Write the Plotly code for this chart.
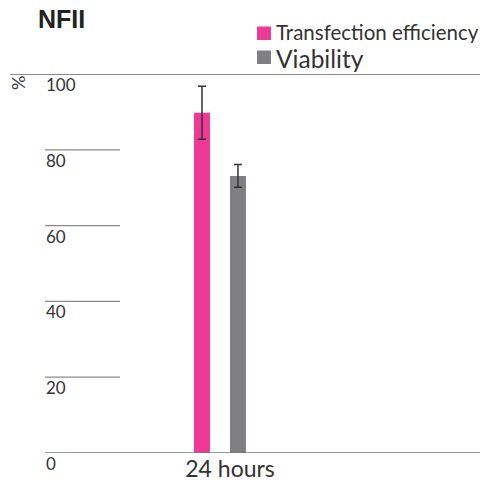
import plotly.graph_objects as go

# ---- data ----
categories = ["24 hours"]
series_names = ["Transfection efficiency", "Viability"]
series_values = [[89.8], [73.1]]
series_errors = [[7.0], [3.0]]
series_colors = ["#EE3A96", "#808084"]
y_ticks = [0, 20, 40, 60, 80, 100]
title_text = "NFII"
y_label = "%"

W, H = 480, 481
ML, MR, MT, MB = 10, 0, 74, 28
PW, PH = W - ML - MR, H - MT - MB


def px(x):
    return (x - ML) / PW


def py(y):
    return (H - MB - y) / PH


fig = go.Figure()
for name, vals, errs, col in zip(series_names, series_values, series_errors, series_colors):
    fig.add_trace(go.Bar(
        x=categories, y=vals, name=name, marker=dict(color=col, line=dict(width=0)),
        error_y=dict(type="data", array=errs, color="#333333", thickness=1.5, width=4),
        showlegend=False,
    ))

shapes = []
annotations = []
for t in y_ticks:
    if t == 100:
        shapes.append(dict(type="line", xref="paper", yref="y", x0=0, x1=1, y0=t, y1=t,
                           line=dict(color="#8a8a8a", width=2)))
    elif t == 0:
        shapes.append(dict(type="line", xref="paper", yref="y", x0=px(45), x1=1, y0=t, y1=t,
                           line=dict(color="#777777", width=1.5)))
    else:
        shapes.append(dict(type="line", xref="paper", yref="y", x0=px(45), x1=px(120), y0=t, y1=t,
                           line=dict(color="#8a8a8a", width=1.3)))
    annotations.append(dict(text=str(t), xref="paper", yref="y", x=px(44), y=t,
                            xanchor="left", yanchor="top", yshift=2, showarrow=False,
                            font=dict(family="Lato", size=17, color="#333333")))

# legend (manual)
leg_font_sizes = [20.5, 24.5]
leg_y = [32.5, 57.5]
leg_box_h = [22, 28]
leg_sq_y = [33, 57]
for name, col, fs, ly, bh, sy in zip(series_names, series_colors, leg_font_sizes, leg_y, leg_box_h, leg_sq_y):
    shapes.append(dict(type="rect", xref="paper", yref="paper",
                       x0=px(257), x1=px(271), y0=py(sy - 6.5), y1=py(sy + 7),
                       fillcolor=col, line=dict(width=0)))
    annotations.append(dict(text=name, xref="paper", yref="paper", x=px(274), y=py(ly),
                            xanchor="left", yanchor="middle", showarrow=False, height=bh,
                            font=dict(family="Lato", size=fs, color="#333333")))

annotations.append(dict(text=y_label, xref="paper", yref="paper", x=px(18), y=py(83),
                        xanchor="center", yanchor="middle", textangle=-90, showarrow=False,
                        font=dict(family="Lato", size=18, color="#333333")))
annotations.append(dict(text="<b>" + title_text + "</b>", xref="paper", yref="paper",
                        x=px(36), y=py(19), xanchor="left", yanchor="middle", showarrow=False,
                        font=dict(family="Liberation Sans", size=25, color="#222222")))

fig.update_layout(
    width=W, height=H,
    margin=dict(l=ML, r=MR, t=MT, b=MB, pad=0),
    paper_bgcolor="white", plot_bgcolor="white",
    barmode="group", bargap=0.308, bargroupgap=0.556,
    xaxis=dict(type="category", range=[-2.019, 2.5], showgrid=False, zeroline=False,
               showline=False, ticks="", ticklabelshift=10, ticklabelstandoff=0,
               tickfont=dict(family="Lato", size=23, color="#333333")),
    yaxis=dict(range=[0, 100], showgrid=False, zeroline=False, showline=False,
               showticklabels=False, ticks=""),
    shapes=shapes, annotations=annotations,
    showlegend=False,
)

fig.write_html(
    "out.html",
    config={"displayModeBar": False},
    post_script="document.body.style.margin='0';document.body.style.overflow='hidden';",
)
